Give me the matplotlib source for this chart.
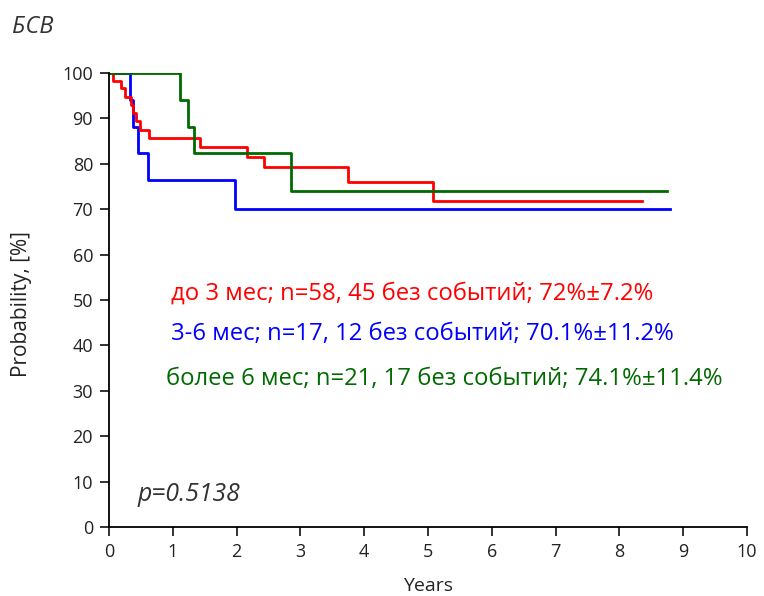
import matplotlib
matplotlib.use("Agg")
import matplotlib.pyplot as plt

# Data (time in years, survival in %)
red_t = [0, 0.06, 0.18, 0.25, 0.34, 0.38, 0.42, 0.49, 0.63, 1.42, 2.16, 2.43, 3.74, 5.08, 8.35]
red_s = [100, 98.3, 96.6, 94.8, 93.0, 91.2, 89.4, 87.5, 85.7, 83.6, 81.6, 79.4, 76.1, 71.9, 71.9]
blue_t = [0, 0.33, 0.38, 0.46, 0.61, 1.97, 8.79]
blue_s = [100, 94.1, 88.2, 82.3, 76.4, 70.1, 70.1]
green_t = [0, 1.11, 1.24, 1.33, 2.86, 8.74]
green_s = [100, 94.1, 88.2, 82.3, 74.1, 74.1]

labels = ["до 3 мес; n=58, 45 без событий; 72%±7.2%",
          "3-6 мес; n=17, 12 без событий; 70.1%±11.2%",
          "более 6 мес; n=21, 17 без событий; 74.1%±11.4%"]
colors = ["#ff0000", "#0000ff", "#006a00"]

plt.rcParams['font.family'] = ['Open Sans', 'DejaVu Sans']

fig = plt.figure(figsize=(7.64, 5.96), dpi=100)
ax = fig.add_axes([0.1427, 0.1158, 0.835, 0.7617])

ax.step(blue_t, blue_s, where='post', color=colors[1], lw=2.0)
ax.step(red_t, red_s, where='post', color=colors[0], lw=2.0)
ax.step(green_t, green_s, where='post', color=colors[2], lw=2.0)

ax.set_xlim(0, 10)
ax.set_ylim(0, 100)
ax.set_xticks(range(0, 11))
ax.set_yticks(range(0, 101, 10))
for s in ['top', 'right']:
    ax.spines[s].set_visible(False)
for s in ['left', 'bottom']:
    ax.spines[s].set_linewidth(1.3)
ax.tick_params(direction='out', length=6.5, width=1.3, labelsize=13, colors='#222222', pad=5)
ax.set_xlabel("Years", fontsize=14, color='#222222')
ax.set_ylabel("Probability, [%]", fontsize=15, color='#222222')
ax.yaxis.set_label_coords(-0.121, 0.49)
ax.xaxis.set_label_coords(0.5, -0.111)

ax.text(0.97, 51.5, labels[0], color=colors[0], fontsize=17.2, va='center')
ax.text(0.97, 42.4, labels[1], color=colors[1], fontsize=17.2, va='center')
ax.text(0.90, 32.6, labels[2], color=colors[2], fontsize=17.2, va='center')
ax.text(0.44, 7.2, "p=0.5138", fontsize=17.8, style='italic', color='#333333', va='center')

fig.text(12/764, 1 - 27/596, "БСВ", fontsize=17, style='italic', color='#333333', va='center')

fig.savefig("out.png", dpi=100)
